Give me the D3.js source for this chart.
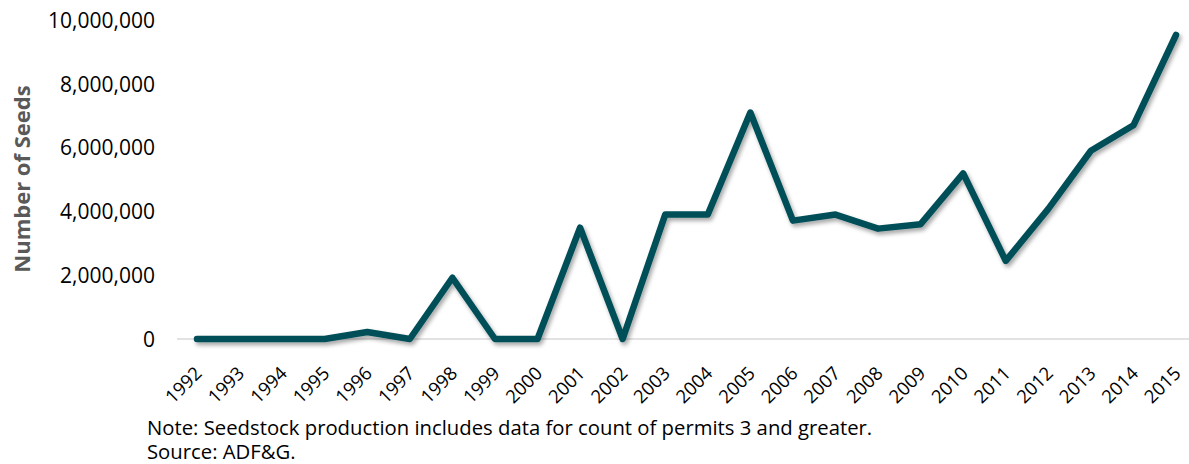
<!DOCTYPE html>
<html>
<head>
<meta charset="utf-8">
<script src="https://cdn.jsdelivr.net/npm/d3@7"></script>
<style>
  body { margin: 0; background: #fff; }
  text { font-family: "Open Sans", "Noto Sans", sans-serif; }
</style>
</head>
<body>
<svg id="chart" width="1189" height="464"></svg>
<script>
// data
var years = ["1992","1993","1994","1995","1996","1997","1998","1999","2000","2001","2002","2003",
             "2004","2005","2006","2007","2008","2009","2010","2011","2012","2013","2014","2015"];
var seeds = [0, 0, 0, 0, 220000, 0, 1920000, 0, 0, 3490000, 0, 3900000,
             3900000, 7100000, 3710000, 3900000, 3460000, 3600000, 5190000, 2450000, 4080000, 5900000, 6700000, 9530000];
var yTicks = [0, 2000000, 4000000, 6000000, 8000000, 10000000];
var noteLines = ["Note: Seedstock production includes data for count of permits 3 and greater.",
                 "Source: ADF&G."];

var svg = d3.select("#chart");

// plot area
var plotLeft = 177, plotRight = 1189, plotTop = 20, plotBottom = 339;

var x = d3.scalePoint()
    .domain(years)
    .range([197, 1176]);

var y = d3.scaleLinear()
    .domain([0, 10000000])
    .range([plotBottom, plotTop]);

// drop shadow for the line
var defs = svg.append("defs");
var f = defs.append("filter").attr("id", "shadow")
    .attr("x", "-5%").attr("y", "-10%").attr("width", "110%").attr("height", "130%");
f.append("feDropShadow")
    .attr("dx", 2).attr("dy", 3).attr("stdDeviation", 2)
    .attr("flood-color", "#000").attr("flood-opacity", 0.35);

// baseline gridline at 0
svg.append("line")
    .attr("x1", plotLeft).attr("x2", plotRight)
    .attr("y1", y(0)).attr("y2", y(0))
    .attr("stroke", "#d9d9d9").attr("stroke-width", 1.5);

// y axis labels
var yAxis = d3.axisLeft(y)
    .tickValues(yTicks)
    .tickSize(0)
    .tickPadding(0)
    .tickFormat(d3.format(","));

var gy = svg.append("g")
    .attr("transform", "translate(155,0)")
    .call(yAxis);
gy.select(".domain").remove();
gy.selectAll("text")
    .attr("font-size", "21px")
    .attr("fill", "#000")
    .attr("dy", "0.35em")
    .style("font-family", "'Open Sans', sans-serif");

// y axis title
svg.append("text")
    .attr("transform", "translate(30,179) rotate(-90)")
    .attr("text-anchor", "middle")
    .attr("font-size", "22px")
    .attr("font-weight", "bold")
    .attr("fill", "#595959")
    .text("Number of Seeds");

// x axis labels
var xAxis = d3.axisBottom(x).tickSize(0).tickPadding(0);
var gx = svg.append("g")
    .attr("transform", "translate(0," + plotBottom + ")")
    .call(xAxis);
gx.select(".domain").remove();
gx.selectAll(".tick text")
    .attr("font-size", "18.5px")
    .attr("fill", "#000")
    .attr("text-anchor", "end")
    .attr("dy", null)
    .attr("y", 0)
    .style("font-family", "'Open Sans', sans-serif")
    .attr("transform", "translate(2,32) rotate(-45)")
    .attr("dominant-baseline", "middle");

// the line
var line = d3.line()
    .x(function(d, i) { return x(years[i]); })
    .y(function(d) { return y(d); });

svg.append("path")
    .datum(seeds)
    .attr("d", line)
    .attr("fill", "none")
    .attr("stroke", "#004f58")
    .attr("stroke-width", 6.5)
    .attr("stroke-linejoin", "round")
    .attr("stroke-linecap", "round")
    .attr("filter", "url(#shadow)");

// note
svg.selectAll(".note")
    .data(noteLines)
    .enter().append("text")
    .attr("class", "note")
    .attr("x", 147)
    .attr("y", function(d, i) { return 435 + i * 24; })
    .attr("font-size", "20.3px")
    .attr("fill", "#000")
    .text(function(d) { return d; });
</script>
</body>
</html>
